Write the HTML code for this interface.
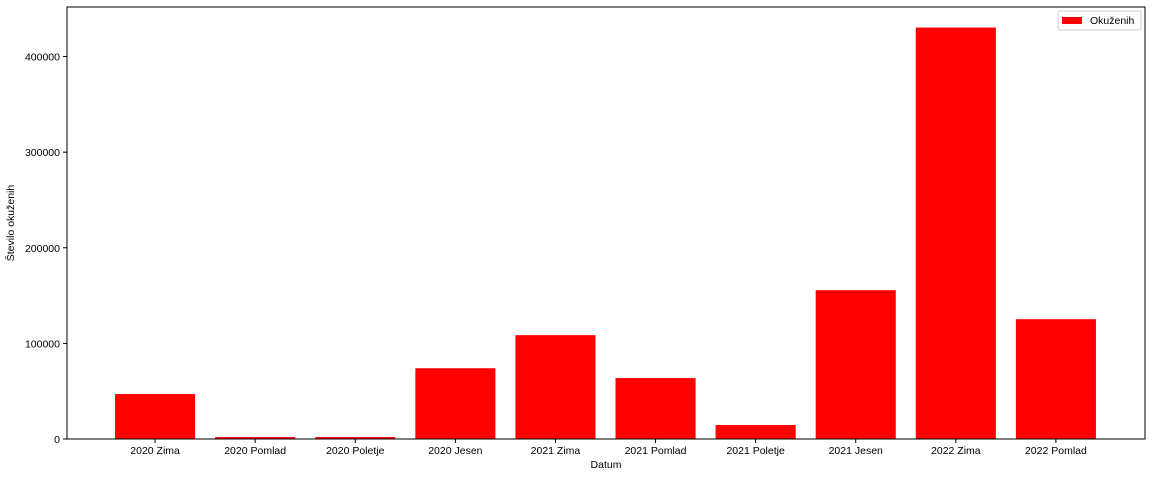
<!DOCTYPE html>
<html><head><meta charset="utf-8"><style>
body{margin:0;background:#fff;}
svg text{font-family:"Liberation Sans",sans-serif;font-size:10.5px;fill:#000;}
</style></head><body>
<svg id="chart" width="1153" height="477" xmlns="http://www.w3.org/2000/svg">
<rect x="0" y="0" width="1153" height="477" fill="#fff"/>
<g id="bars"></g>
<g id="xticks"></g>
<g id="yticks"></g>
<rect x="67" y="7" width="1078" height="432" fill="none" stroke="#000" stroke-width="1"/>
<text x="606" y="468" text-anchor="middle">Datum</text>
<text transform="translate(14,223) rotate(-90)" text-anchor="middle">Število okuženih</text>
<g>
<rect x="1058" y="11" width="83" height="19" fill="#fff" stroke="#ccc" rx="2"/>
<rect x="1062" y="17" width="20" height="7" fill="#ff0000"/>
<text x="1090" y="24">Okuženih</text>
</g>
</svg>
<script>
const categories=["2020 Zima","2020 Pomlad","2020 Poletje","2020 Jesen","2021 Zima","2021 Pomlad","2021 Poletje","2021 Jesen","2022 Zima","2022 Pomlad"];
const values=[47000,2000,2000,74000,108600,63700,14600,155600,430300,125300];
const yTicks=[0,100000,200000,300000,400000];
const ns="http://www.w3.org/2000/svg";
const L=67,R=1145,T=7,B=439;
const xmin=-0.88,xmax=categories.length-1+0.89;
const ymax=Math.max(...values)*1.05;
const x=i=>L+(i-xmin)/(xmax-xmin)*(R-L);
const y=v=>B-v/ymax*(B-T);
const bw=0.8*(R-L)/(xmax-xmin);
const bars=document.getElementById('bars'),xt=document.getElementById('xticks'),yt=document.getElementById('yticks');
function mk(t,a,p){const e=document.createElementNS(ns,t);for(const k in a)e.setAttribute(k,a[k]);p.appendChild(e);return e;}
categories.forEach((c,i)=>{
 const r=mk('rect',{x:x(i)-bw/2,y:y(values[i]),width:bw,height:B-y(values[i]),fill:'#ff0000'},bars);
 
 
 mk('line',{x1:x(i),x2:x(i),y1:B,y2:B+4,stroke:'#000'},xt);
 const t=mk('text',{x:x(i),y:B+15,'text-anchor':'middle'},xt);t.textContent=c;
 
 
});
yTicks.forEach(v=>{
 mk('line',{x1:L-4,x2:L,y1:y(v),y2:y(v),stroke:'#000'},yt);
 const t=mk('text',{x:L-7,y:y(v)+4,'text-anchor':'end'},yt);t.textContent=v;
 
 
});
</script>
</body></html>
